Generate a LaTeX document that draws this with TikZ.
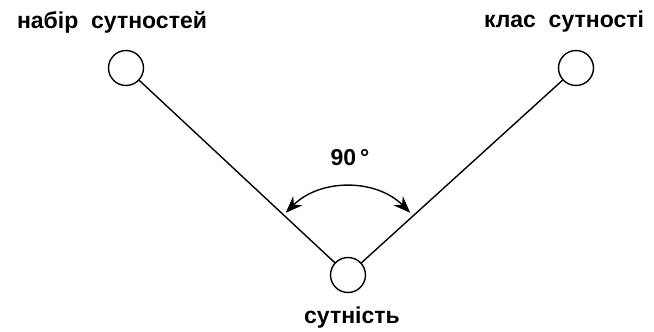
\documentclass[tikz,border=0pt]{standalone}
\usepackage{fontspec}
\setmainfont{Liberation Sans}
\usetikzlibrary{arrows.meta, positioning, calc}
\tikzset{
  ent/.style={circle, draw, line width=1.4pt, minimum size=35pt, inner sep=0pt},
  lbl/.style={font=\fontsize{23}{26}\selectfont\bfseries, inner sep=0pt},
  arr/.style={{Stealth[length=17pt, width=13pt]}-{Stealth[length=17pt, width=13pt]}, line width=1.4pt},
}
\begin{document}
\begin{tikzpicture}[x=1pt, y=1pt]
    \useasboundingbox (0,0) rectangle (654,-332);

    % entities
    \node[ent] (set) at (126,-68) {};
    \node[ent] (cls) at (576,-68) {};
    \node[ent] (one) at (348,-275) {};
    \draw[line width=1.4pt] (set) -- (one) -- (cls);

    % labels
    \node[lbl] (setl) at (112,-22) {набір\ \ сутностей};
    \node[lbl] (clsl) at (564,-22) {клас\ \ сутності};
    \node[lbl] (onel) at (352,-318) {сутність};

    % right angle
    \coordinate (a1) at ($(one)+(135:88)$);
    \draw[arr] (a1) arc (135:45:88);
    \node[lbl] (ang) at (350,-158) {90\,°};
\end{tikzpicture}
\end{document}
